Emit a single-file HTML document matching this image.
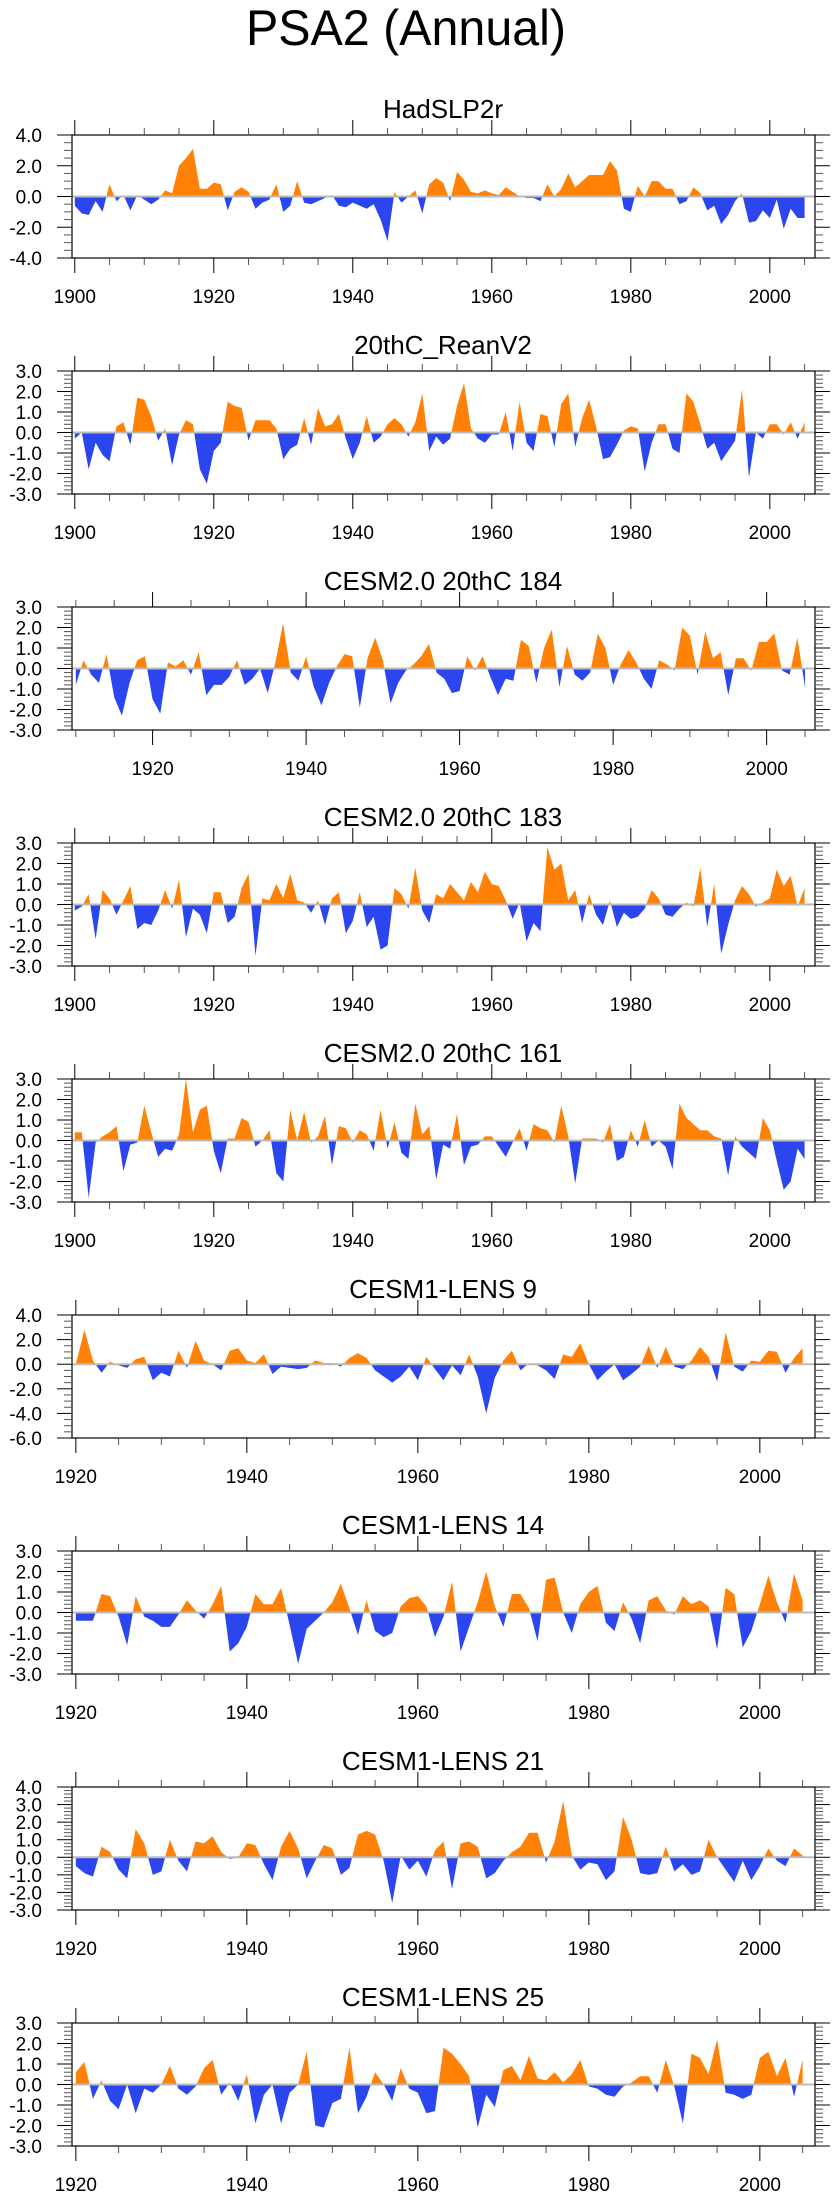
<!DOCTYPE html>
<html><head><meta charset="utf-8"><title>PSA2 (Annual)</title>
<style>
html,body{margin:0;padding:0;background:#fff;}
svg{display:block;font-family:"Liberation Sans",Arial,sans-serif;}
</style></head>
<body>
<svg id="chart" width="840" height="2200" viewBox="0 0 840 2200" xmlns="http://www.w3.org/2000/svg">
<text x="406" y="45" font-size="50" text-anchor="middle" textLength="320" lengthAdjust="spacingAndGlyphs">PSA2 (Annual)</text>
<g id="panels"></g>
</svg>
<script>
const panelTitles = ["HadSLP2r","20thC_ReanV2","CESM2.0 20thC 184","CESM2.0 20thC 183","CESM2.0 20thC 161","CESM1-LENS 9","CESM1-LENS 14","CESM1-LENS 21","CESM1-LENS 25"];
const startYears = [1900,1900,1910,1900,1900,1920,1920,1920,1920];
const yMins = [-4,-3,-3,-3,-3,-6,-3,-3,-3];
const yMaxs = [4,3,3,3,3,4,3,4,3];
const yMajorSteps = [2,1,1,1,1,2,1,1,1];
const yMinorSteps = [0.5,0.2,0.2,0.2,0.2,0.5,0.2,0.2,0.2];
const xLabelYears = [1900,1920,1940,1960,1980,2000];

const hadslp2r = [-0.6,-1.1,-1.2,-0.3,-1.0,0.8,-0.3,0.1,-0.9,0.1,-0.2,-0.5,-0.2,0.4,0.2,2.0,2.5,3.1,0.5,0.5,0.9,0.8,-0.9,0.3,0.6,0.3,-0.8,-0.4,-0.2,0.8,-1.0,-0.6,1.0,-0.4,-0.5,-0.3,-0.1,0.1,-0.6,-0.7,-0.4,-0.6,-0.8,-0.5,-1.5,-2.9,0.3,-0.4,0.0,0.4,-1.1,0.8,1.2,0.9,-0.3,1.6,1.1,0.3,0.2,0.4,0.2,0.1,0.6,0.3,0.0,-0.1,-0.1,-0.3,0.8,0.0,0.5,1.5,0.6,1.0,1.4,1.4,1.4,2.3,1.7,-0.8,-1.0,0.7,0.0,1.0,1.0,0.5,0.5,-0.5,-0.3,0.6,0.2,-0.9,-0.6,-1.8,-1.2,-0.3,0.2,-1.7,-1.6,-0.9,-1.4,-0.2,-2.1,-0.8,-1.4,-1.4];
const reanV2 = [-0.3,0.0,-1.8,-0.5,-1.1,-1.4,0.3,0.5,-0.6,1.7,1.6,0.8,-0.4,0.2,-1.6,-0.1,0.6,0.4,-1.8,-2.5,-0.9,-0.5,1.5,1.3,1.2,-0.4,0.6,0.6,0.6,0.2,-1.3,-0.8,-0.6,0.7,-0.6,1.2,0.3,0.4,0.9,-0.3,-1.3,-0.5,0.8,-0.5,-0.2,0.4,0.7,0.4,-0.2,0.5,1.9,-0.9,-0.2,-0.6,-0.3,1.3,2.4,0.2,-0.3,-0.5,-0.1,-0.1,1.0,-0.9,1.5,-0.5,-0.9,0.9,0.8,-0.7,1.4,1.9,-0.7,0.7,1.6,0.3,-1.3,-1.2,-0.6,0.1,0.3,0.2,-1.9,-0.5,0.4,0.4,-0.8,-1.0,1.9,1.5,0.4,-0.8,-0.5,-1.4,-0.9,-0.4,2.1,-2.2,0.0,-0.3,0.4,0.4,-0.1,0.5,-0.3,0.5];
const cesm2_184 = [-0.8,0.4,-0.3,-0.7,0.7,-1.4,-2.3,-0.7,0.4,0.6,-1.5,-2.2,0.3,0.1,0.4,-0.3,0.8,-1.3,-0.8,-0.8,-0.4,0.4,-0.8,-0.5,0.0,-1.2,0.3,2.2,-0.2,-0.6,0.6,-0.9,-1.8,-0.7,0.1,0.7,0.6,-1.9,0.5,1.5,0.4,-1.7,-0.7,-0.1,0.2,0.6,1.2,-0.2,-0.5,-1.2,-1.1,0.6,-0.1,0.6,-0.4,-1.3,-0.5,-0.6,1.4,1.1,-0.7,1.0,1.9,-0.9,1.1,-0.3,-0.6,-0.2,1.7,1.0,-0.8,0.2,0.9,0.3,-0.5,-1.0,0.4,0.2,-0.1,2.0,1.6,-0.3,1.8,0.5,0.8,-1.3,0.5,0.5,-0.1,1.3,1.3,1.7,-0.1,-0.3,1.5,-0.9];
const cesm2_183 = [-0.3,-0.1,0.5,-1.7,0.7,0.3,-0.5,0.2,0.9,-1.2,-0.9,-1.0,-0.3,0.7,-0.2,1.2,-1.6,-0.2,-0.5,-1.4,0.6,0.6,-0.9,-0.6,0.8,1.5,-2.5,0.3,0.2,1.0,0.3,1.5,0.2,0.1,-0.4,0.2,-1.0,0.3,0.6,-1.4,-0.8,0.6,-1.1,-0.6,-2.2,-2.0,0.8,0.5,-0.2,1.8,-0.3,-0.9,0.5,0.3,1.0,0.6,0.2,1.1,0.6,1.6,1.0,0.9,0.2,-0.7,0.1,-1.8,-0.9,-1.3,2.8,1.7,2.0,0.2,0.7,-0.9,0.5,-0.5,-1.0,0.2,-1.1,-0.4,-0.7,-0.6,-0.2,0.7,0.3,-0.5,-0.6,-0.2,0.1,-0.1,1.8,-1.1,1.0,-2.4,-1.0,0.2,0.9,0.5,-0.1,0.1,0.3,1.7,0.9,1.4,-0.1,0.8];
const cesm2_161 = [0.4,0.4,-2.8,-0.1,0.2,0.4,0.7,-1.5,-0.2,-0.1,1.7,0.4,-0.8,-0.4,-0.5,0.3,3.0,0.4,1.5,1.7,-0.5,-1.6,0.1,0.1,1.1,0.9,-0.3,0.0,0.5,-1.6,-2.0,1.5,0.0,1.4,-0.1,0.2,1.2,-1.2,0.7,0.6,-0.1,0.5,0.3,-0.5,1.5,-0.4,0.9,-0.6,-0.9,1.8,0.3,0.7,-1.9,-0.2,-0.4,1.3,-1.2,-0.3,-0.2,0.2,0.2,-0.3,-0.8,-0.1,0.6,-0.5,0.8,0.6,0.5,-0.1,1.7,0.2,-2.1,0.1,0.1,0.1,-0.1,0.8,-1.0,-0.8,0.5,-0.3,1.0,-0.3,0.0,-0.3,-1.4,1.8,1.1,0.8,0.5,0.5,0.2,0.1,-1.7,0.2,-0.3,-0.6,-0.9,1.1,0.5,-1.0,-2.4,-2.0,-0.4,-0.9];
const lens9 = [0.0,2.8,0.3,-0.7,0.2,-0.1,-0.3,0.4,0.6,-1.3,-0.7,-1.0,1.1,-0.3,1.9,0.3,0.0,-0.5,1.1,1.3,0.3,0.1,0.8,-0.8,-0.2,-0.3,-0.4,-0.3,0.3,0.1,0.1,-0.2,0.5,0.9,0.5,-0.5,-1.0,-1.5,-1.0,-0.2,-1.3,0.6,-0.4,-1.3,-0.1,-0.9,0.8,-1.0,-4.0,-1.1,0.3,1.1,-0.5,0.1,-0.1,-0.5,-1.2,0.8,0.6,1.7,0.0,-1.3,-0.6,0.0,-1.3,-0.8,-0.2,1.5,-0.3,1.4,-0.2,-0.4,0.3,1.4,0.6,-1.4,2.6,-0.2,-0.6,0.3,0.2,1.1,1.0,-0.7,0.5,1.3];
const lens14 = [-0.4,-0.4,-0.4,0.9,0.8,-0.2,-1.6,0.8,-0.2,-0.4,-0.7,-0.7,-0.1,0.6,0.1,-0.3,0.4,1.3,-1.9,-1.5,-0.7,0.9,0.4,0.4,1.2,-0.6,-2.5,-0.8,-0.4,0.0,0.5,1.4,0.2,-1.1,0.6,-0.9,-1.2,-1.0,0.3,0.7,0.8,0.3,-1.2,-0.2,1.5,-1.9,-0.7,0.5,2.0,0.3,-0.7,0.9,0.9,0.2,-1.4,1.6,1.7,0.0,-1.0,0.4,1.0,1.3,-0.5,-0.9,0.5,-0.3,-1.5,0.6,0.8,0.1,-0.1,0.8,0.4,0.6,0.3,-1.8,1.2,0.9,-1.7,-0.9,0.4,1.8,0.5,-0.5,1.9,0.6];
const lens21 = [-0.5,-0.9,-1.1,0.6,0.3,-0.7,-1.2,1.6,0.8,-1.0,-0.8,1.0,-0.2,-0.8,0.9,0.8,1.2,0.3,-0.1,0.0,0.8,0.7,-0.4,-1.3,0.6,1.5,0.5,-1.2,-0.2,0.7,0.5,-1.0,-0.6,1.3,1.5,1.3,-0.2,-2.6,0.1,-0.7,-0.2,-1.1,0.4,0.9,-1.8,0.8,0.9,0.6,-1.2,-0.9,-0.2,0.3,0.6,1.4,1.4,-0.3,0.9,3.2,0.1,-0.7,-0.3,-0.4,-1.3,-0.8,2.3,1.0,-0.9,-1.0,-0.9,0.6,-0.8,-0.4,-1.0,-0.8,1.0,0.0,-0.7,-1.4,-0.2,-1.3,-0.5,0.5,-0.2,-0.5,0.5,0.1];
const lens25 = [0.6,1.1,-0.7,0.2,-0.8,-1.2,0.0,-1.4,-0.2,-0.4,0.0,0.9,-0.2,-0.5,-0.1,0.8,1.2,-0.5,0.1,-0.8,0.5,-1.9,-0.5,0.0,-1.9,-0.4,0.0,1.6,-2.0,-2.1,-0.9,-0.7,1.8,-1.4,-0.6,0.6,0.0,-0.8,0.8,-0.2,-0.4,-1.4,-1.3,1.8,1.5,1.0,0.4,-2.1,-0.5,-1.1,0.7,0.9,0.2,1.4,0.3,0.2,0.6,0.1,0.5,1.2,-0.1,-0.2,-0.5,-0.6,-0.1,0.1,0.4,0.4,-0.4,1.2,-0.1,-1.9,1.5,1.3,0.5,2.2,-0.4,-0.5,-0.7,-0.5,1.3,1.6,0.4,1.3,-0.6,1.2];
const seriesList = [hadslp2r, reanV2, cesm2_184, cesm2_183, cesm2_161, lens9, lens14, lens21, lens25];

const NS = "http://www.w3.org/2000/svg";
const BOX_L = 72, BOX_R = 815, BOX_H = 123, TOP0 = 135, PITCH = 236;
const root = document.getElementById('panels');
function mk(tag, attrs, parent) {
  const e = document.createElementNS(NS, tag);
  for (const k in attrs) e.setAttribute(k, attrs[k]);
  parent.appendChild(e);
  return e;
}
function fmt(v) { return (Math.abs(v) < 1e-9 ? 0 : v).toFixed(1); }

seriesList.forEach((data, p) => {
  const top = TOP0 + PITCH * p, bot = top + BOX_H;
  const y0 = startYears[p];
  const xmin = y0 === 1900 ? 1899.6 : (y0 === 1910 ? 1909.5 : 1919.55);
  const xmax = y0 === 1900 ? 2006.5 : (y0 === 1910 ? 2006.3 : 2006.45);
  const ymin = yMins[p], ymax = yMaxs[p];
  const xs = yr => BOX_L + (yr - xmin) / (xmax - xmin) * (BOX_R - BOX_L);
  const ys = v => bot - (v - ymin) / (ymax - ymin) * BOX_H;

  const g = mk('g', {}, root);
  
  

  const t = mk('text', {x: 443, y: top - 17, 'font-size': 26, 'text-anchor': 'middle'}, g);
  t.textContent = panelTitles[p];
  
  

  const z = ys(0);
  const cidA = 'ca' + p, cidB = 'cb' + p;
  const cpA = mk('clipPath', {id: cidA}, g);
  mk('rect', {x: BOX_L, y: top, width: BOX_R - BOX_L, height: z - top}, cpA);
  const cpB = mk('clipPath', {id: cidB}, g);
  mk('rect', {x: BOX_L, y: z, width: BOX_R - BOX_L, height: bot - z}, cpB);

  let pts = xs(y0).toFixed(2) + ',' + z.toFixed(2) + ' ';
  data.forEach((v, i) => { pts += xs(y0 + i).toFixed(2) + ',' + ys(v).toFixed(2) + ' '; });
  pts += xs(y0 + data.length - 1).toFixed(2) + ',' + z.toFixed(2);
  const pa = mk('polygon', {points: pts, fill: '#ff8106', 'clip-path': 'url(#' + cidA + ')'}, g);
  
  
  const pb = mk('polygon', {points: pts, fill: '#2b46ee', 'clip-path': 'url(#' + cidB + ')'}, g);
  
  

  const zl = mk('line', {x1: BOX_L, x2: BOX_R, y1: z, y2: z, stroke: '#bbbbbb', 'stroke-width': 2}, g);
  
  

  const box = mk('rect', {x: BOX_L, y: top, width: BOX_R - BOX_L, height: BOX_H, fill: 'none', stroke: '#000', 'stroke-width': 1.2}, g);
  
  

  const nMinor = Math.round((ymax - ymin) / yMinorSteps[p]);
  for (let i = 0; i <= nMinor; i++) {
    const v = ymin + i * yMinorSteps[p];
    const y = ys(v);
    const isMajor = Math.abs(v / yMajorSteps[p] - Math.round(v / yMajorSteps[p])) < 1e-6;
    const len = isMajor ? 15 : 8;
    mk('line', {x1: BOX_L - len, x2: BOX_L, y1: y, y2: y, stroke: isMajor ? '#000' : '#555', 'stroke-width': 1}, g);
    mk('line', {x1: BOX_R, x2: BOX_R + len, y1: y, y2: y, stroke: isMajor ? '#000' : '#555', 'stroke-width': 1}, g);
    if (isMajor) {
      const lb = mk('text', {x: 42, y: y + 7, 'font-size': 19, 'text-anchor': 'end'}, g);
      lb.textContent = fmt(v);
      
      
    }
  }
  for (let yr = Math.ceil(xmin / 5) * 5; yr <= xmax; yr += 5) {
    const x = xs(yr);
    const isMajor = yr % 20 === 0;
    const len = isMajor ? 15 : 7;
    mk('line', {x1: x, x2: x, y1: top - len, y2: top, stroke: isMajor ? '#000' : '#555', 'stroke-width': 1}, g);
    mk('line', {x1: x, x2: x, y1: bot, y2: bot + len, stroke: isMajor ? '#000' : '#555', 'stroke-width': 1}, g);
  }
  xLabelYears.forEach(yr => {
    if (yr < xmin || yr > xmax) return;
    const lb = mk('text', {x: xs(yr), y: bot + 45, 'font-size': 19, 'text-anchor': 'middle'}, g);
    lb.textContent = String(yr);
    
    
  });
});
</script>
</body></html>
